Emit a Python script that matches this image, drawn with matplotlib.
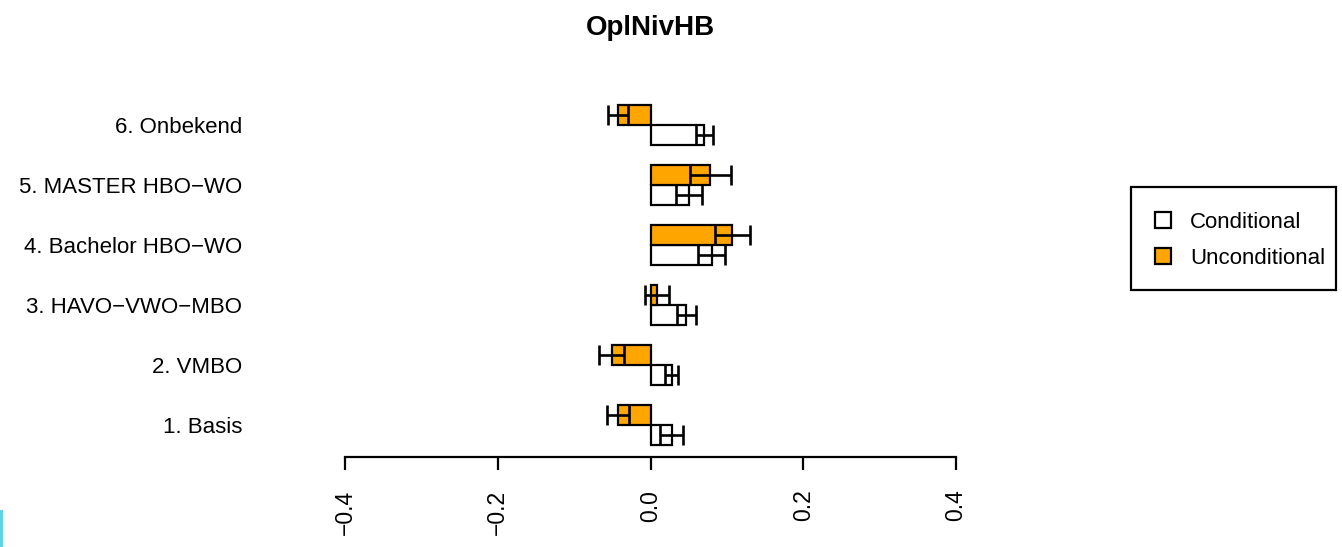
import numpy as np
import matplotlib.pyplot as plt
from matplotlib.patches import Patch, Rectangle

plt.rcParams['font.family'] = ['Liberation Sans', 'DejaVu Sans']

categories = ["1. Basis", "2. VMBO", "3. HAVO\u2212VWO\u2212MBO",
              "4. Bachelor HBO\u2212WO", "5. MASTER HBO\u2212WO", "6. Onbekend"]
cond = [0.0275, 0.0275, 0.047, 0.080, 0.051, 0.0707]
cond_err = [0.015, 0.0085, 0.012, 0.0177, 0.017, 0.011]
uncond = [-0.043, -0.051, 0.008, 0.107, 0.0785, -0.043]
uncond_err = [0.0144, 0.016, 0.0157, 0.023, 0.027, 0.013]
xticks = [-0.4, -0.2, 0.0, 0.2, 0.4]

W, H = 1342, 547
fig = plt.figure(figsize=(W / 100, H / 100), dpi=100)
ax = fig.add_axes([345 / W, (H - 457) / H, 611 / W, 362 / H])

pos = 3 * np.arange(1, len(categories) + 1)
lw = 1.6
ax.barh(pos - 0.5, cond, height=1, color='white', edgecolor='black', linewidth=lw)
ax.barh(pos + 0.5, uncond, height=1, color='orange', edgecolor='black', linewidth=lw)
ek = dict(fmt='none', ecolor='black', elinewidth=1.9, capsize=7, capthick=1.9)
ax.errorbar(cond, pos - 0.5, xerr=cond_err, **ek)
ax.errorbar(uncond, pos + 0.5, xerr=uncond_err, **ek)

ax.set_xlim(-0.4, 0.4)
ax.set_ylim(1.4, 19.5)
for s in ['top', 'right', 'left']:
  ax.spines[s].set_visible(False)
ax.spines['bottom'].set_linewidth(lw)
ax.set_xticks(xticks)
ax.set_xticklabels([('%.1f' % t).replace('-', '\u2212') for t in xticks],
                   rotation=90, fontsize=16.5)
ax.tick_params(axis='x', length=9.5, width=lw, pad=14)
ax.set_yticks(pos)
ax.set_yticklabels(categories, fontsize=16)
ax.tick_params(axis='y', length=0, pad=74)

fig.text(650.5 / W, 1 - 28 / H, 'OplNivHB', ha='center', va='center',
         fontsize=20, weight='bold')

# legend entries, with the box drawn separately
handles = [Patch(facecolor='white', edgecolor='black', linewidth=lw, label='Conditional'),
           Patch(facecolor='orange', edgecolor='black', linewidth=lw, label='Unconditional')]
fig.legend(handles=handles, loc='center left', bbox_to_anchor=(1155 / W, 1 - 240.5 / H),
           fontsize=16, frameon=False, handlelength=0.72, handleheight=0.72,
           handletextpad=0.85, borderpad=0, labelspacing=0.68, borderaxespad=0)
fig.patches.append(Rectangle((1131 / W, 1 - 290 / H), 205 / W, 103 / H,
                             transform=fig.transFigure, facecolor='none',
                             edgecolor='black', linewidth=lw))

# thin cyan strip along the lower left edge
fig.patches.append(Rectangle((0, 0), 3 / W, 37 / H, transform=fig.transFigure,
                             facecolor='#5fd3ea', edgecolor='none'))

fig.savefig('out.png', dpi=100)
